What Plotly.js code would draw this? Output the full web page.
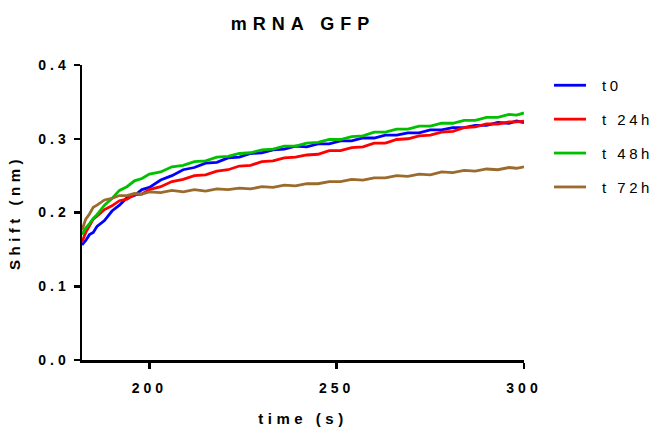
<!DOCTYPE html>
<html>
<head>
<meta charset="utf-8">
<script src="https://cdn.plot.ly/plotly-3.0.1.min.js"></script>
<style>
  html, body { margin: 0; padding: 0; background: #fff; }
  #chart { width: 657px; height: 427px; }
  .gtitle { letter-spacing: 6px; }
  .xtick text, .ytick text { letter-spacing: 4px; }
  .xtitle, .ytitle { letter-spacing: 4.5px; }
  .legendtext { letter-spacing: 3.5px; }
  .legendlines path { stroke-dasharray: 32 200; }
</style>
</head>
<body>
<div id="chart"></div>
<script>
const time = [182,183,184,185,186,188,190,192,194,196,198,200,203,206,209,212,215,218,221,224,227,230,233,236,239,242,245,248,251,254,257,260,263,266,269,272,275,278,281,284,287,290,293,296,298,300];
const seriesNames = ["t0", "t 24h", "t 48h", "t 72h"];
const t0 = [0.156,0.162,0.170,0.173,0.181,0.189,0.202,0.210,0.220,0.223,0.231,0.234,0.244,0.250,0.258,0.261,0.267,0.268,0.274,0.275,0.280,0.281,0.285,0.286,0.290,0.289,0.293,0.293,0.297,0.297,0.301,0.301,0.305,0.305,0.308,0.308,0.312,0.312,0.315,0.315,0.318,0.318,0.322,0.321,0.324,0.322];
const t24h = [0.160,0.173,0.182,0.191,0.195,0.204,0.209,0.216,0.218,0.224,0.225,0.231,0.235,0.242,0.245,0.250,0.251,0.256,0.258,0.263,0.264,0.269,0.270,0.274,0.275,0.278,0.279,0.284,0.284,0.288,0.289,0.294,0.294,0.299,0.300,0.304,0.305,0.309,0.310,0.315,0.316,0.320,0.320,0.323,0.323,0.324];
const t48h = [0.170,0.179,0.185,0.192,0.197,0.210,0.219,0.230,0.235,0.243,0.246,0.252,0.255,0.262,0.264,0.269,0.270,0.275,0.276,0.280,0.281,0.285,0.286,0.290,0.290,0.294,0.295,0.299,0.299,0.303,0.304,0.309,0.309,0.313,0.313,0.317,0.317,0.321,0.321,0.325,0.325,0.329,0.329,0.333,0.332,0.335];
const t72h = [0.176,0.191,0.198,0.207,0.210,0.217,0.219,0.223,0.223,0.226,0.225,0.228,0.227,0.230,0.228,0.231,0.229,0.232,0.231,0.233,0.232,0.235,0.234,0.237,0.236,0.239,0.239,0.242,0.242,0.245,0.244,0.247,0.247,0.250,0.249,0.252,0.251,0.255,0.254,0.257,0.256,0.259,0.258,0.261,0.260,0.262];
const yTicks = [0, 0.1, 0.2, 0.3, 0.4];
const xTicks = [200, 250, 300];

const colors = ["#0000FF", "#FF0000", "#00C000", "#9B6A2D"];
const values = [t0, t24h, t48h, t72h];

const traces = values.map((v, i) => ({
  x: time, y: v, type: "scatter", mode: "lines",
  name: seriesNames[i], legendgroup: "g" + i,
  line: { color: colors[i], width: 2.8 }
}));

const F = "Liberation Sans, Arial, sans-serif";
const layout = {
  width: 657, height: 427,
  margin: { l: 82, r: 133, t: 65, b: 67, autoexpand: false },
  paper_bgcolor: "#fff", plot_bgcolor: "#fff",
  title: { text: "mRNA GFP", font: { family: F, size: 18, color: "#000", weight: "bold" },
           xref: "paper", x: 0.5, xanchor: "center", yref: "container", y: 1 - 24/427, yanchor: "middle" },
  xaxis: {
    range: [182, 300], tickvals: xTicks, ticks: "outside", ticklen: 6, tickwidth: 2.5, tickcolor: "#000",
    showline: true, linewidth: 2.5, linecolor: "#000", showgrid: false, zeroline: false,
    tickfont: { family: F, size: 14, color: "#000", weight: "bold" }, ticklabelstandoff: 8,
    title: { text: "time (s)", font: { family: F, size: 15, color: "#000", weight: "bold" }, standoff: 18 }
  },
  yaxis: {
    range: [0, 0.4], tickvals: yTicks, tickformat: ".1f", ticks: "outside", ticklen: 6, tickwidth: 2.5, tickcolor: "#000",
    showline: true, linewidth: 2.5, linecolor: "#000", showgrid: false, zeroline: false,
    tickfont: { family: F, size: 14, color: "#000", weight: "bold" }, ticklabelstandoff: 1,
    title: { text: "Shift (nm)", font: { family: F, size: 15, color: "#000", weight: "bold" }, standoff: 14 }
  },
  showlegend: true,
  legend: {
    x: (549 - 82) / 442, xanchor: "left", y: (360 - 69) / 295, yanchor: "top",
    font: { family: F, size: 15, color: "#000" },
    tracegroupgap: 11.4, itemwidth: 43, bgcolor: "rgba(0,0,0,0)", borderwidth: 0
  }
};

Plotly.newPlot("chart", traces, layout, { displayModeBar: false, staticPlot: true });
</script>
</body>
</html>
